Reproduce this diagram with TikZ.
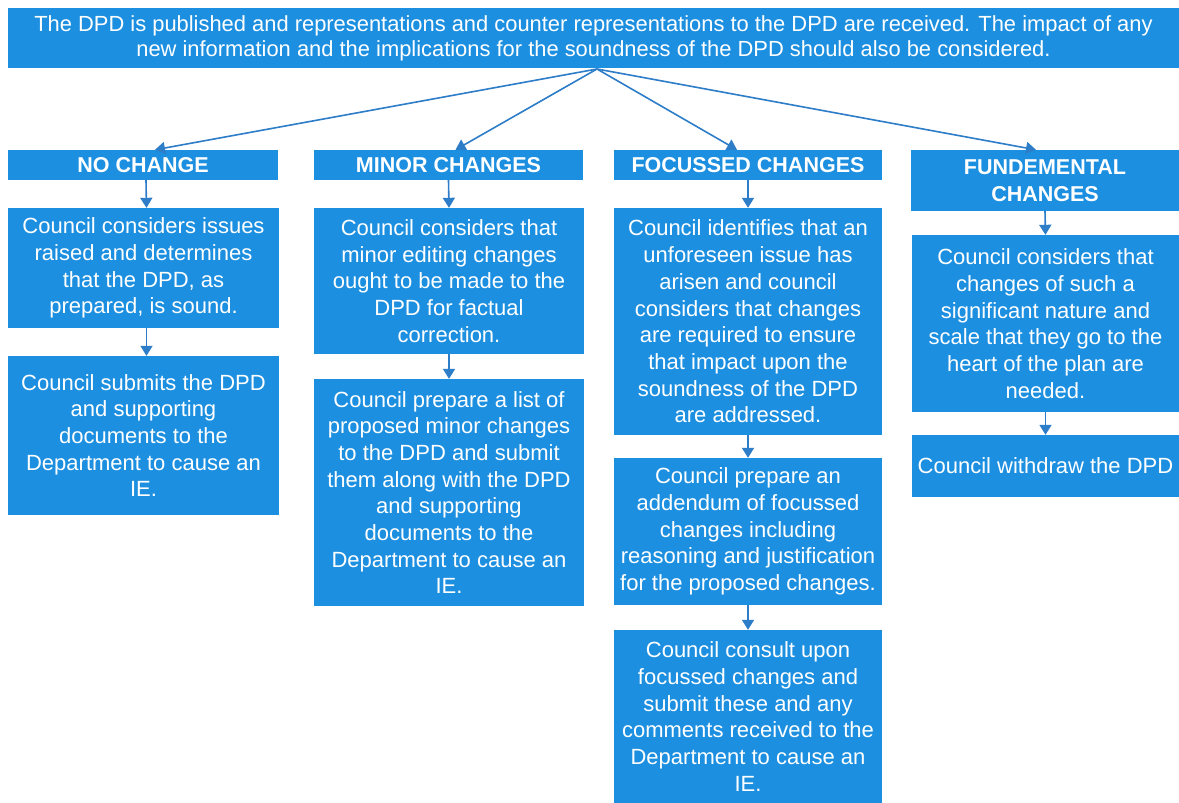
\documentclass[tikz,border=0pt]{standalone}
\usepackage{fontspec}
\setmainfont{Liberation Sans}
\usetikzlibrary{arrows.meta,calc}
\definecolor{boxblue}{RGB}{28,143,224}
\definecolor{arrowblue}{RGB}{45,125,200}
\begin{document}
\begin{tikzpicture}[x=1pt,y=-1pt,
  box/.style={fill=boxblue, draw=none, text=white, align=center, inner sep=0pt,
    font=\fontsize{22}{26.7}\selectfont},
  hdr/.style={box, font=\bfseries\fontsize{21.5}{27}\selectfont},
  arr/.style={draw=arrowblue, line width=1.6pt, -{Triangle[width=12pt,length=10pt]}}]
\useasboundingbox (0,0) rectangle (1179,803);
\fill[white] (0,0) rectangle (1179,803);

\node[box, minimum width=1171, minimum height=60, font=\fontsize{21.9}{25}\selectfont] (top) at (593.5,38)
  {The DPD is published and representations and counter representations to the DPD are received. The impact of any\\
   new information and the implications for the soundness of the DPD should also be considered.};

\node[hdr, minimum width=270, minimum height=30] (h1) at (143,165) {NO CHANGE};
\node[hdr, minimum width=269, minimum height=30] (h2) at (448.5,165) {MINOR CHANGES};
\node[hdr, minimum width=268, minimum height=30] (h3) at (748,165) {FOCUSSED CHANGES};
\node[hdr, minimum width=268, minimum height=61] (h4) at (1045,180.5) {FUNDEMENTAL\\CHANGES};

\node[box, minimum width=271, minimum height=120] (a1) at (143.5,268)
  {Council considers issues\\raised and determines\\that the DPD, as\\prepared, is sound.};
\node[box, minimum width=271, minimum height=159] (a2) at (143.5,435.5)
  {Council submits the DPD\\and supporting\\documents to the\\Department to cause an\\IE.};

\node[box, minimum width=270, minimum height=146] (b1) at (449,281)
  {Council considers that\\minor editing changes\\ought to be made to the\\DPD for factual\\correction.};
\node[box, minimum width=270, minimum height=227] (b2) at (449,492.5)
  {Council prepare a list of\\proposed minor changes\\to the DPD and submit\\them along with the DPD\\and supporting\\documents to the\\Department to cause an\\IE.};

\node[box, minimum width=268, minimum height=227] (c1) at (748,321.5)
  {Council identifies that an\\unforeseen issue has\\arisen and council\\considers that changes\\are required to ensure\\that impact upon the\\soundness of the DPD\\are addressed.};
\node[box, minimum width=268, minimum height=147] (c2) at (748,531.5)
  {Council prepare an\\addendum of focussed\\changes including\\reasoning and justification\\for the proposed changes.};
\node[box, minimum width=268, minimum height=173] (c3) at (748,716.5)
  {Council consult upon\\focussed changes and\\submit these and any\\comments received to the\\Department to cause an\\IE.};

\node[box, minimum width=267, minimum height=177] (d1) at (1045.5,323.5)
  {Council considers that\\changes of such a\\significant nature and\\scale that they go to the\\heart of the plan are\\needed.};
\node[box, minimum width=267, minimum height=62] (d2) at (1045.5,466)
  {Council withdraw the DPD};

\coordinate (src) at (597,69);
\draw[arr] (src) -- ($(h1.north)+(12,0)$);
\draw[arr] (src) -- ($(h2.north)+(7,0)$);
\draw[arr] (src) -- ($(h3.north)+(-11,0)$);
\draw[arr] (src) -- ($(h4.north)+(-9,0)$);

\draw[arr] ($(h1.south)+(3,0)$) -- ($(a1.north)+(3,0)$);
\draw[arr] ($(a1.south)+(3,0)$) -- ($(a2.north)+(3,0)$);
\draw[arr] (h2.south) -- (b1.north);
\draw[arr] (b1.south) -- (b2.north);
\draw[arr] (h3.south) -- (c1.north);
\draw[arr] (c1.south) -- (c2.north);
\draw[arr] (c2.south) -- (c3.north);
\draw[arr] (h4.south) -- (d1.north);
\draw[arr] (d1.south) -- (d2.north);
\end{tikzpicture}
\end{document}
